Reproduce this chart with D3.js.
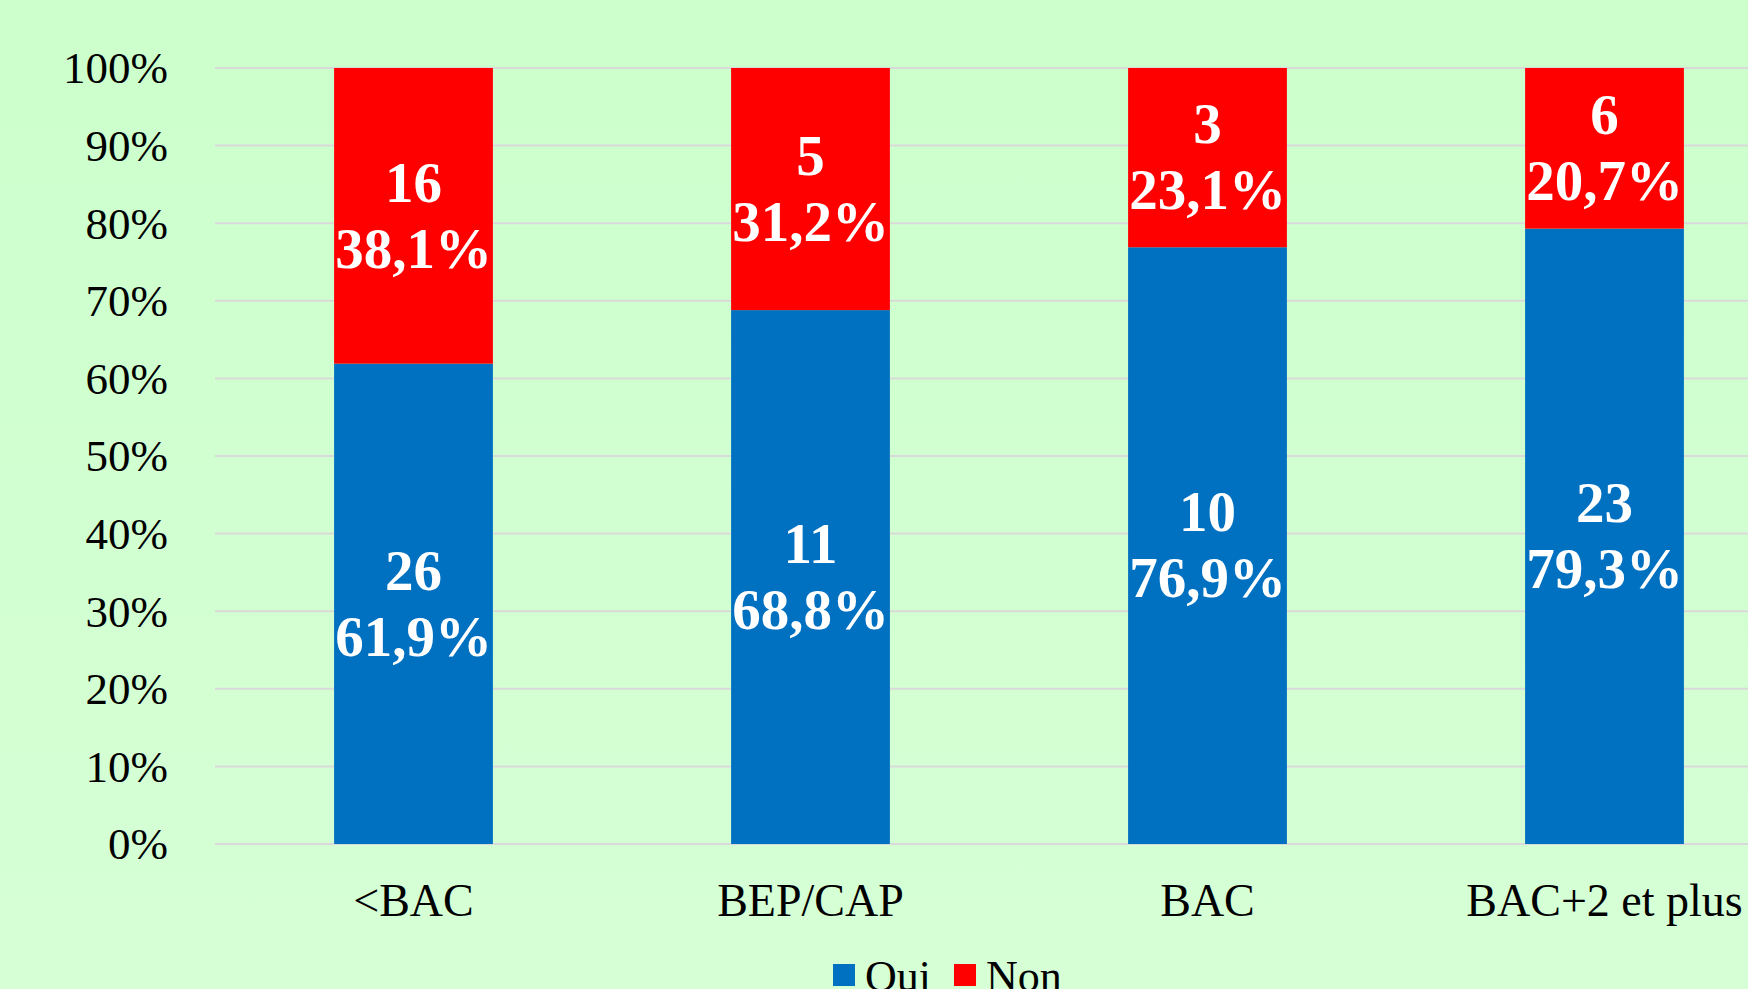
<!DOCTYPE html>
<html>
<head>
<meta charset="utf-8">
<script src="https://cdn.jsdelivr.net/npm/d3@7"></script>
<style>
  html, body { margin: 0; padding: 0; overflow: hidden; }
  body { width: 1748px; height: 989px; }
  text { font-family: "Liberation Serif", "Times New Roman", serif; }
</style>
</head>
<body>
<script>
// Data
const categories = ["<BAC", "BEP/CAP", "BAC", "BAC+2 et plus"];
const ouiCounts = [26, 11, 10, 23];
const nonCounts = [16, 5, 3, 6];
const ouiPct = [61.9, 68.8, 76.9, 79.3];
const nonPct = [38.1, 31.2, 23.1, 20.7];
const seriesNames = ["Oui", "Non"];
const yTicks = [0, 10, 20, 30, 40, 50, 60, 70, 80, 90, 100];

const colors = { Oui: "#0070C0", Non: "#FF0000" };

const width = 1748, height = 989;
const margin = { top: 68, left: 215, bottom: 145 };
const plotRight = 215 + 4 * 397; // plot runs past the right edge, as in the original

const svg = d3.select("body").append("svg")
  .attr("width", width)
  .attr("height", height);

// light green background with a faint vertical gradient
const defs = svg.append("defs");
const grad = defs.append("linearGradient")
  .attr("id", "bg")
  .attr("x1", 0).attr("y1", 0).attr("x2", 0).attr("y2", 1);
grad.append("stop").attr("offset", "0%").attr("stop-color", "#ccffcc");
grad.append("stop").attr("offset", "100%").attr("stop-color", "#d6ffd6");

svg.append("rect")
  .attr("width", width)
  .attr("height", height)
  .attr("fill", "url(#bg)");

const x = d3.scaleBand()
  .domain(categories)
  .range([margin.left, plotRight])
  .paddingInner(0.6)
  .paddingOuter(0.3);

const y = d3.scaleLinear()
  .domain([0, 100])
  .range([height - margin.bottom, margin.top]);

// gridlines
svg.append("g")
  .selectAll("line")
  .data(yTicks)
  .enter()
  .append("line")
  .attr("x1", margin.left)
  .attr("x2", plotRight)
  .attr("y1", d => y(d))
  .attr("y2", d => y(d))
  .attr("stroke", "#d9d9d9")
  .attr("stroke-width", 2);

// y axis labels
const yAxis = d3.axisLeft(y)
  .tickValues(yTicks)
  .tickFormat(d => d + "%")
  .tickSize(0)
  .tickPadding(0);

const yg = svg.append("g")
  .attr("transform", "translate(168,0)")
  .call(yAxis);
yg.select(".domain").remove();
yg.selectAll("text")
  .attr("font-family", "Liberation Serif, serif")
  .attr("font-size", 45)
  .attr("fill", "#000")
  .attr("dy", "0.33em");

// stacked data
const rows = categories.map((c, i) => ({
  cat: c, Oui: ouiPct[i], Non: nonPct[i],
  counts: { Oui: ouiCounts[i], Non: nonCounts[i] },
  pcts: { Oui: ouiPct[i], Non: nonPct[i] }
}));

const stacked = d3.stack().keys(seriesNames)(rows);

const layer = svg.append("g")
  .selectAll("g")
  .data(stacked)
  .enter()
  .append("g")
  .attr("fill", d => colors[d.key]);

layer.selectAll("rect")
  .data(d => d.map(p => Object.assign(p, { key: d.key })))
  .enter()
  .append("rect")
  .attr("x", d => x(d.data.cat))
  .attr("width", x.bandwidth())
  .attr("y", d => y(Math.min(d[1], 100)))
  .attr("height", d => y(d[0]) - y(Math.min(d[1], 100)));

// data labels: count on top line, percentage below
const fmtPct = v => v.toFixed(1).replace(".", ",") + "%";
const labels = layer.selectAll("text")
  .data(d => d)
  .enter()
  .append("text")
  .attr("text-anchor", "middle")
  .attr("fill", "#fff")
  .attr("font-weight", "bold")
  .attr("font-size", 57)
  .attr("x", d => x(d.data.cat) + x.bandwidth() / 2)
  .attr("y", d => (y(d[0]) + y(Math.min(d[1], 100))) / 2);

labels.append("tspan")
  .attr("x", d => x(d.data.cat) + x.bandwidth() / 2)
  .attr("dy", "-0.25em")
  .text(d => d.data.counts[d.key]);

labels.append("tspan")
  .attr("x", d => x(d.data.cat) + x.bandwidth() / 2)
  .attr("dy", "1.16em")
  .text(d => fmtPct(d.data.pcts[d.key]));

// category axis
const xAxis = d3.axisBottom(x).tickSize(0).tickPadding(0);
const xg = svg.append("g")
  .attr("transform", "translate(0," + (height - margin.bottom) + ")")
  .call(xAxis);
xg.select(".domain").remove();
xg.selectAll("text")
  .attr("font-family", "Liberation Serif, serif")
  .attr("font-size", 46)
  .attr("fill", "#000")
  .attr("dy", 0)
  .attr("y", 72);

// legend (cut off at the bottom like the original)
const legend = svg.append("g").attr("transform", "translate(833,964)");
const legendX = [0, 121];
seriesNames.forEach((s, i) => {
  legend.append("rect")
    .attr("x", legendX[i])
    .attr("y", 0)
    .attr("width", 22)
    .attr("height", 22)
    .attr("fill", colors[s]);
  legend.append("text")
    .attr("x", legendX[i] + 32)
    .attr("y", 27)
    .attr("font-size", 44)
    .attr("fill", "#000")
    .text(s);
});
</script>
</body>
</html>
